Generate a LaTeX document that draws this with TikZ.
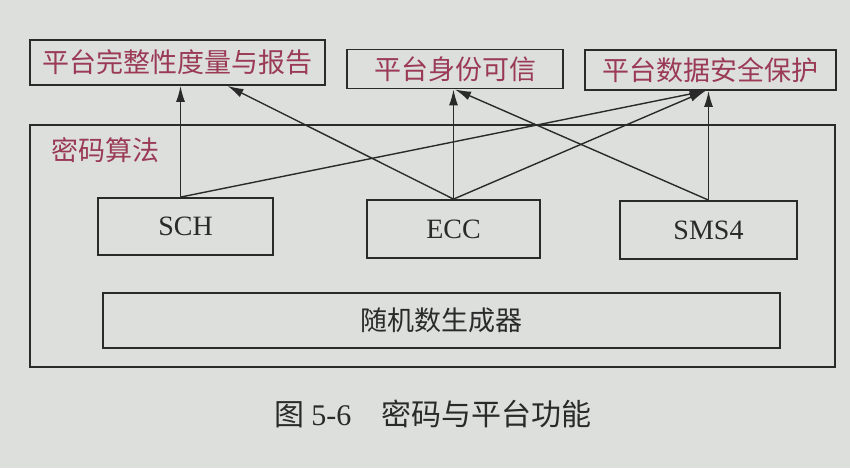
\documentclass[tikz,border=0pt]{standalone}
\usepackage{fontspec}
\setmainfont{Liberation Serif}
\newfontfamily\cjk{Noto Sans CJK SC}
\usetikzlibrary{arrows.meta}
\definecolor{paper}{HTML}{DCDFDC}
\definecolor{redtxt}{HTML}{9A3A55}
\definecolor{ink}{HTML}{2A2A2A}
\tikzset{
  topbox/.style={draw=ink, line width=1.8pt, inner sep=0pt, text=redtxt, font=\cjk\fontsize{27}{30}\selectfont},
  algbox/.style={draw=ink, line width=1.8pt, inner sep=0pt, text=ink, font=\fontsize{28}{31}\selectfont},
  framebox/.style={draw=ink, line width=1.5pt, inner sep=0pt},
  conn/.style={draw=ink, line width=1.4pt, -{Latex[length=16pt,width=9pt]}}
}
\begin{document}
\begin{tikzpicture}[x=1pt,y=-1pt]
\fill[paper] (0,0) rectangle (850,468);
\useasboundingbox (0,0) rectangle (850,468);
% top boxes
\node[topbox, minimum width=295pt, minimum height=45pt] (b1) at (177.5,62.5) {平台完整性度量与报告};
\node[topbox, minimum width=216pt, minimum height=39pt] (b2) at (455,69) {平台身份可信};
\node[topbox, minimum width=251pt, minimum height=40pt] (b3) at (710.5,70) {平台数据安全保护};
% frame
\node[framebox, minimum width=805pt, minimum height=242pt] (frame) at (432.5,246) {};
\node[text=redtxt, font=\cjk\fontsize{27}{30}\selectfont, inner sep=0pt] (lbl) at (105,150) {密码算法};
% algorithm boxes
\node[algbox, minimum width=175pt, minimum height=57pt] (sch) at (185.5,226.5) {SCH};
\node[algbox, minimum width=173pt, minimum height=58pt] (ecc) at (453.5,229) {ECC};
\node[algbox, minimum width=177pt, minimum height=58pt] (sms) at (708.5,230) {SMS4};
\node[algbox, font=\cjk\fontsize{27}{30}\selectfont, minimum width=677pt, minimum height=55pt] (rng) at (441.5,320.5) {随机数生成器};
% connectors
\draw[conn] ([xshift=-5pt]sch.north) -- ([xshift=-5pt]sch.north |- b1.south);
\draw[conn] ([xshift=-5pt]sch.north) -- ([xshift=-5pt]b3.south);
\draw[conn] (ecc.north) -- ([xshift=50pt]b1.south);
\draw[conn] (ecc.north) -- (ecc.north |- b2.south);
\draw[conn] (ecc.north) -- ([xshift=-5pt]b3.south);
\draw[conn] (sms.north) -- (b2.south);
\draw[conn] (sms.north) -- (sms.north |- b3.south);
% caption
\node[text=ink, font=\cjk\fontsize{30}{33}\selectfont, inner sep=0pt] (cap) at (433,414) {图 {\rmfamily 5-6}\quad 密码与平台功能};
\end{tikzpicture}
\end{document}
